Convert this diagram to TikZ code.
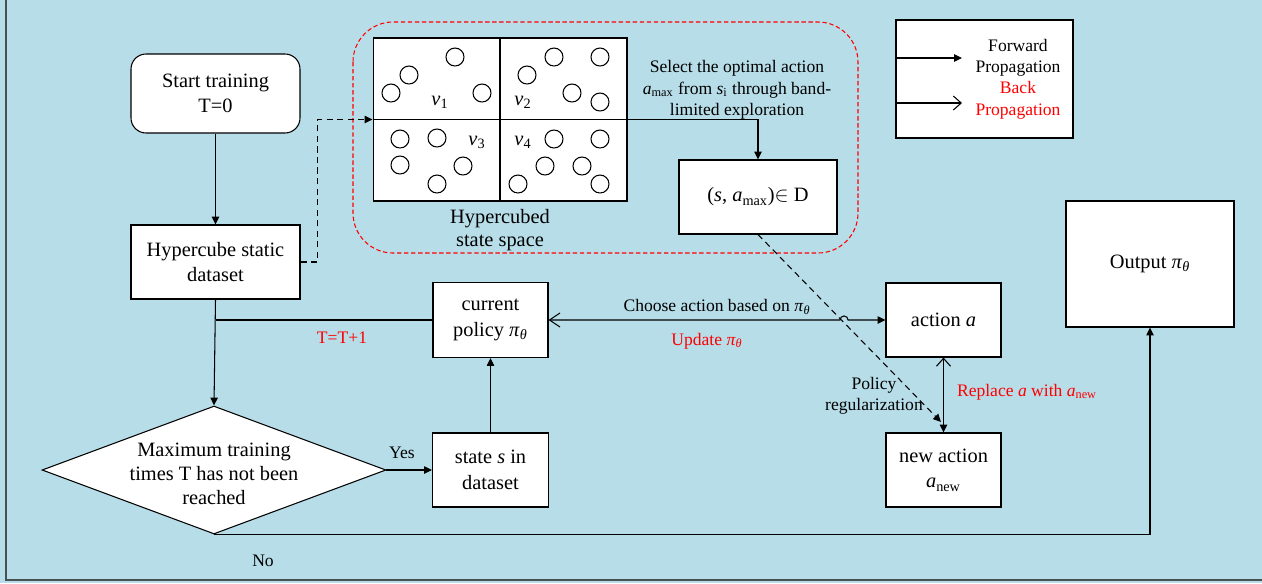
\documentclass[tikz,border=0pt]{standalone}
\usepackage{fontspec}
\setmainfont{Liberation Serif}
\usetikzlibrary{arrows.meta,shapes.geometric}
\definecolor{bgblue}{RGB}{183,221,232}
\definecolor{framec}{RGB}{70,80,85}
\newcommand\fsbig{\fontsize{11.6}{14.5}\selectfont}
\newcommand\fssm{\fontsize{10}{12.2}\selectfont}
\newcommand\ptheta{\textit{π}\textsubscript{\textit{θ}}}
\tikzset{
  box/.style={draw, fill=white, line width=0.6pt, inner sep=0pt, align=center, font=\fsbig},
  lbl/.style={inner sep=0pt, align=center, font=\fssm},
  fwd/.tip={Triangle[length=4.5pt,width=4.2pt]},
  bck/.tip={Straight Barb[length=4.5pt,width=8pt]},
  conn/.style={line width=0.6pt},
  dsh/.style={line width=0.6pt, dash pattern=on 3.5pt off 2.5pt},
}
\begin{document}
\begin{tikzpicture}[x=0.02cm,y=-0.02cm]
\useasboundingbox (0,0) rectangle (1262,583);
\fill[bgblue] (0,0) rectangle (1262,583);
\draw[framec, line width=1pt] (6,0) -- (6,580) -- (1262,580);

% red dashed region
\draw[red, line width=0.6pt, dash pattern=on 2.5pt off 1.5pt, rounded corners=0.8cm] (353,22) rectangle (858,253);

% nodes
\node[box, rounded corners=0.3cm, minimum width=3.38cm, minimum height=1.58cm] (start) at (215.5,93.5) {Start training\\T=0};
\node[box, minimum width=3.38cm, minimum height=1.48cm] (hyp) at (215.5,262) {Hypercube static\\dataset};
\node[draw, fill=white, line width=0.6pt, inner sep=0pt, minimum width=5.08cm, minimum height=3.26cm] (grid) at (500,119.5) {};
\node[box, minimum width=3.16cm, minimum height=1.48cm] (dbox) at (758,197) {(\textit{s}, \textit{a}\textsubscript{max})$\in$ D};
\node[box, minimum width=2.3cm, minimum height=1.5cm] (cp) at (490.5,320) {current\\policy \ptheta};
\node[box, minimum width=2.32cm, minimum height=1.48cm] (state) at (490.5,470) {state \textit{s} in\\dataset};
\node[box, minimum width=2.3cm, minimum height=1.48cm] (act) at (943.5,320) {action \textit{a}};
\node[box, minimum width=2.3cm, minimum height=1.48cm] (newact) at (943.5,470) {new action\\\textit{a}\textsubscript{new}};
\node[box, minimum width=3.36cm, minimum height=2.52cm] (out) at (1150,264) {Output \ptheta};
\node[box, minimum width=3.54cm, minimum height=2.36cm] (legend) at (984.5,79) {};
\node[diamond, draw, fill=white, line width=0.6pt, aspect=2.69, minimum width=6.88cm, minimum height=2.56cm, inner sep=0pt] (dia) at (214,470) {};
\node[inner sep=0pt, align=center, font=\fontsize{11.6}{13.8}\selectfont] (diatxt) at (214,474) {Maximum training\\times T has not been\\reached};

% circles in grid
\foreach \x/\y in {455/57, 409/75, 391/93, 482/93, 554/57, 600/57, 527/75, 572/93, 600/102,
  400/139, 437/138, 400/165, 463/166, 437/184, 554/139, 600/139, 545/166, 582/166, 518/184, 600/184}
  \draw[line width=0.6pt] (\x,\y) circle[radius=0.18cm];

% grid labels
\node[inner sep=0pt, font=\fsbig] (v1) at (440,102) {\textit{v}\textsubscript{1}};
\node[inner sep=0pt, font=\fsbig] (v2) at (523,102) {\textit{v}\textsubscript{2}};
\node[inner sep=0pt, font=\fsbig] (v3) at (477,142) {\textit{v}\textsubscript{3}};
\node[inner sep=0pt, font=\fsbig] (v4) at (523,142) {\textit{v}\textsubscript{4}};
\node[inner sep=0pt, align=center, font=\fontsize{11.6}{13.2}\selectfont] (hsl) at (500,230) {Hypercubed\\state space};

% coordinates
\coordinate (hop) at (840,320);
\coordinate (regend) at (941,422);
\coordinate (lf) at (962,58);
\coordinate (lb) at (962,103);

% connectors
\draw[conn,-fwd] (start) -- (hyp);
\draw[dsh,-fwd] (hyp.east) -- ++(17,0) |- (grid.west);
\draw[conn] (grid.north) -- (grid.south);
\draw[conn] (grid.west) -- (grid.east);
\draw[conn,-fwd] (grid.east) -| (dbox.north);
\draw[conn,-fwd] (hyp.south) -- (dia.north);
\draw[conn] (cp.west) -- (cp.west -| hyp.south);
\draw[conn,-fwd] (state) -- (cp);
\draw[conn,-fwd] (dia.east) -- (state.west);
\draw[conn,-fwd] (dia.south) -| (out.south);
\draw[conn,{Straight Barb[length=6pt,width=8pt]}-fwd] (cp.east) -- (hop) arc[start angle=180,end angle=0,radius=2.3pt] -- (act.west);
\draw[conn,bck-fwd] (act.south) -- (newact.north);
\draw[dsh,-fwd] (dbox.south) -- (regend);
\draw[conn,-fwd] (legend.west |- lf) -- (lf);
\draw[conn,-bck] (legend.west |- lb) -- (lb);

% labels
\node[lbl] (legtxt) at (1018,79) {Forward\\Propagation\\\textcolor{red}{Back}\\\textcolor{red}{Propagation}};
\node[lbl] (sel) at (737,90) {Select the optimal action\\\textit{a}\textsubscript{max} from \textit{s}\textsubscript{i} through band-\\limited exploration};
\node[lbl] (choose) at (717,307) {Choose action based on \ptheta};
\node[lbl, text=red] (upd) at (707,341) {Update \ptheta};
\node[lbl, text=red] (tt) at (342,338) {T=T+1};
\node[lbl] (yes) at (402,453) {Yes};
\node[lbl] (no) at (263,561) {No};
\node[lbl] (preg) at (874,396) {Policy\\regularization};
\node[lbl, text=red] (repl) at (1027,392) {Replace \textit{a} with \textit{a}\textsubscript{new}};
\end{tikzpicture}
\end{document}
